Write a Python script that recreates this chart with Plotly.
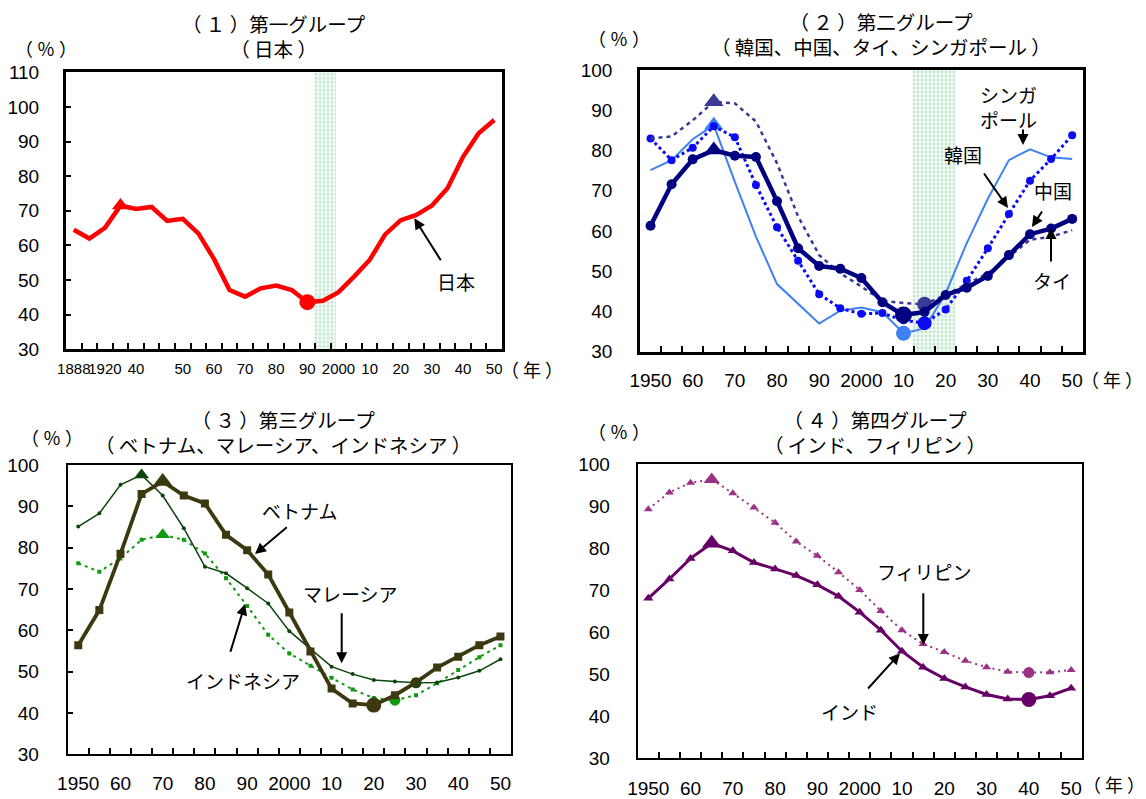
import plotly.graph_objects as go

W, H = 1146, 799

# ---------------- data ----------------
# Panel 1: Japan (category axis, 28 categories)
jp_labels = ["1888", "", "1920", "", "40", "", "", "50", "", "60", "", "70", "", "80", "",
             "90", "", "2000", "", "10", "", "20", "", "30", "", "40", "", "50"]
jp_values = [64.5, 62.0, 65.1, 71.5, 70.5, 71.1, 67.1, 67.7, 63.5, 56.1, 47.1, 45.2, 47.6, 48.4,
             47.1, 43.6, 44.0, 46.5, 51.0, 55.8, 63.2, 67.3, 68.8, 71.5, 76.5, 85.6, 92.4, 96.2]

# Panels 2-4: 1950..2050 every 5 years
yr_labels = ["1950", "", "60", "", "70", "", "80", "", "90", "", "2000", "", "10", "", "20", "",
             "30", "", "40", "", "50"]

china = [61.3, 71.6, 77.8, 80.1, 78.7, 78.4, 67.4, 55.7, 51.3, 50.6, 48.3, 42.3, 39.1, 39.9,
         44.1, 45.9, 48.8, 54.0, 59.2, 60.6, 63.0]
korea = [83.0, 77.6, 80.7, 86.0, 83.3, 71.4, 60.9, 52.6, 44.3, 40.8, 39.4, 39.6, 37.8, 37.1,
         40.5, 47.6, 55.7, 64.2, 72.5, 77.9, 83.8]
singapore = [75.1, 77.6, 82.8, 86.3, 72.2, 58.6, 46.8, 42.0, 37.0, 40.2, 41.0, 39.8, 34.6, 35.8,
             44.5, 57.0, 68.0, 77.6, 80.3, 78.3, 77.9]
thailand = [83.0, 83.5, 87.5, 92.1, 91.7, 87.2, 76.8, 63.6, 54.0, 49.5, 46.2, 42.6, 42.1, 41.8,
            44.1, 46.8, 49.5, 53.6, 57.8, 58.6, 60.2]

vietnam = [56.4, 64.9, 78.5, 93.0, 96.0, 92.6, 90.7, 83.1, 79.4, 73.5, 64.3, 54.9, 45.9, 42.3,
           41.9, 44.3, 47.4, 51.0, 53.6, 56.4, 58.5]
malaysia = [85.1, 88.3, 95.2, 97.6, 92.6, 84.7, 75.4, 73.8, 70.2, 66.5, 59.8, 55.4, 51.2, 49.4,
            48.0, 47.6, 47.3, 47.4, 48.6, 50.2, 53.0]
indonesia = [76.2, 74.2, 77.4, 81.9, 83.1, 81.9, 78.6, 72.6, 65.9, 58.9, 54.4, 51.4, 48.5, 45.7,
             43.6, 43.1, 44.3, 47.2, 50.4, 53.5, 56.4]

india = [68.1, 72.7, 77.6, 81.2, 79.4, 76.6, 75.1, 73.5, 71.3, 68.6, 64.8, 60.5, 55.5, 51.7,
         49.0, 47.0, 45.2, 44.1, 44.0, 44.9, 46.7]
philippines = [89.3, 93.3, 95.6, 96.4, 93.1, 89.7, 86.1, 81.6, 78.2, 74.3, 70.1, 65.1, 60.5, 57.2,
               55.3, 53.2, 51.7, 50.6, 50.4, 50.5, 51.0]

# shaded periods, in category-index units (layout constants)
JP_BAND = (15.45, 16.84)
G2_BAND = (12.44, 14.46)

# ---------------- styling helpers ----------------
NUM_FONT = dict(family="Liberation Sans, Arial, sans-serif", size=19, color="black")
JP_AXIS_FONT = dict(family="Liberation Sans, Arial, sans-serif", size=15, color="black")
JP_FONT = dict(family="Noto Sans CJK JP, sans-serif", size=19, color="black")
UNIT_FONT = dict(family="Noto Sans CJK JP, sans-serif", size=18, color="black")
TITLE_FONT = dict(family="Noto Sans CJK JP, sans-serif", size=19.5, color="black")
NB = "\u00a0"


def marks(vals, base_symbol, base_size, peak_size, low_size, peak=True, low=True):
    n = len(vals)
    sym = [base_symbol] * n
    siz = [base_size] * n
    j = min(range(n), key=lambda k: vals[k])
    if peak:
        i = max(range(j), key=lambda k: vals[k])
        sym[i] = "triangle-up"
        siz[i] = peak_size
    if low:
        sym[j] = "circle"
        siz[j] = low_size
    return sym, siz


def line_trace(vals, xa, ya, color, width, dash, base_symbol, base_size, peak_size, low_size,
               peak=True, low=True):
    sym, siz = marks(vals, base_symbol, base_size, peak_size, low_size, peak, low)
    return go.Scatter(x=list(range(len(vals))), y=vals, xaxis=xa, yaxis=ya, mode="lines+markers",
                      line=dict(color=color, width=width, dash=dash),
                      marker=dict(symbol=sym, size=siz, color=color, opacity=1, line=dict(width=0)),
                      hoverinfo="skip", showlegend=False)


def band_trace(band, ymin, ymax, xa, ya):
    return go.Bar(x=[(band[0] + band[1]) / 2], y=[ymax - ymin], base=[ymin], width=[band[1] - band[0]],
                  xaxis=xa, yaxis=ya,
                  marker=dict(color="white", line=dict(width=0),
                              pattern=dict(shape=".", fgcolor="#93cfaa", bgcolor="#f4fbf6",
                                           size=4, solidity=0.4)),
                  hoverinfo="skip", showlegend=False)


def px(x0, x1):
    return [x0 / W, x1 / W]


def py(y_top, y_bot):
    return [1 - y_bot / H, 1 - y_top / H]


def xaxis_cfg(domain, anchor, n, labels, font, standoff, lw):
    return dict(domain=domain, anchor=anchor, range=[-0.5, n - 0.5], tickmode="array",
                tickvals=list(range(n)), ticktext=labels, ticks="", tickangle=0, showline=True,
                mirror=True, linecolor="black", linewidth=lw, showgrid=False, zeroline=False,
                tickfont=font, ticklabelstandoff=standoff, fixedrange=True,
                minor=dict(tickmode="array", tickvals=[i + 0.5 for i in range(n - 1)],
                           ticks="inside", ticklen=6, tickwidth=2, tickcolor="black", showgrid=False))


def yaxis_cfg(domain, anchor, ymax, ticks, lw, standoff):
    return dict(domain=domain, anchor=anchor, range=[30, ymax], tickmode="linear", tick0=30, dtick=10,
                ticks=ticks, ticklen=5, tickwidth=2, tickcolor="black", showline=True, mirror=True,
                linecolor="black", linewidth=lw, showgrid=False, zeroline=False, tickfont=NUM_FONT,
                ticklabelstandoff=standoff, fixedrange=True)


# ---------------- traces ----------------
traces = []
# panel 1
traces.append(band_trace(JP_BAND, 30, 110, "x", "y"))
traces.append(line_trace(jp_values, "x", "y", "#FF0000", 4.5, "solid", "circle", 0, 15, 16))
# panel 2
traces.append(band_trace(G2_BAND, 30, 100, "x2", "y2"))
traces.append(line_trace(singapore, "x2", "y2", "#3F80F2", 2, "solid", "circle", 0, 17, 15))
traces.append(line_trace(korea, "x2", "y2", "#0A0AF5", 3, "dot", "circle", 8, 0, 14, peak=False))
traces.append(line_trace(thailand, "x2", "y2", "#3A3A96", 2.5, "4px,4px", "circle", 0, 17, 15))
traces.append(line_trace(china, "x2", "y2", "#000080", 4.5, "solid", "circle", 10, 17, 17))
# panel 3
traces.append(line_trace(indonesia, "x3", "y3", "#119911", 2, "3px,4px", "square", 4, 13, 11))
traces.append(line_trace(malaysia, "x3", "y3", "#0B450B", 1.5, "solid", "circle", 4, 13, 11))
traces.append(line_trace(vietnam, "x3", "y3", "#3C3810", 3.8, "solid", "square", 8, 17, 15))
# panel 4
traces.append(line_trace(philippines, "x4", "y4", "#9A3385", 2, "2px,4px", "triangle-up", 8, 14, 11))
traces.append(line_trace(india, "x4", "y4", "#660066", 3, "solid", "triangle-up", 9, 17, 15))

fig = go.Figure(data=traces)

# ---------------- layout ----------------
fig.update_layout(
    width=W, height=H, margin=dict(l=0, r=0, t=0, b=0, autoexpand=False),
    paper_bgcolor="white", plot_bgcolor="white", showlegend=False, barmode="overlay",
    xaxis=xaxis_cfg(px(66, 502), "y", len(jp_values), jp_labels, JP_AXIS_FONT, 4, 3),
    yaxis=yaxis_cfg(py(72.3, 349.3), "x", 110, "inside", 3, 20),
    xaxis2=xaxis_cfg(px(640, 1082.7), "y2", 21, yr_labels, NUM_FONT, 10, 2.5),
    yaxis2=yaxis_cfg(py(70, 351.7), "x2", 100, "", 2.5, 21),
    xaxis3=xaxis_cfg(px(67.7, 511), "y3", 21, yr_labels, NUM_FONT, 11, 2),
    yaxis3=yaxis_cfg(py(465, 754.3), "x3", 100, "inside", 2, 23),
    xaxis4=xaxis_cfg(px(637.7, 1081.7), "y4", 21, yr_labels, NUM_FONT, 12, 2),
    yaxis4=yaxis_cfg(py(464.3, 758.3), "x4", 100, "", 2, 22),
)

annotations = []


def text(x, y, s, font=JP_FONT):
    annotations.append(dict(x=x / W, y=1 - y / H, xref="paper", yref="paper", text=s, showarrow=False,
                            font=font, xanchor="center", yanchor="middle"))


def arrow(tx, ty, hx, hy):
    annotations.append(dict(x=hx / W, y=1 - hy / H, xref="paper", yref="paper", text="",
                            showarrow=True, ax=tx - hx, ay=ty - hy, axref="pixel", ayref="pixel",
                            arrowhead=2, arrowsize=1.1, arrowwidth=2, arrowcolor="black", standoff=0))


def paren(s):
    return "（" + NB + s + NB + "）"


PCT = paren("％")
YEAR = paren("年")

# titles (two lines each) and units
text(274, 36, paren("１") + "第一グループ<br>" + paren("日本"), TITLE_FONT)
text(46, 48, PCT, UNIT_FONT)
text(532, 369, YEAR, UNIT_FONT)

text(881, 34, paren("２") + "第二グループ<br>" + paren("韓国、中国、タイ、シンガポール"), TITLE_FONT)
text(619, 38.5, PCT, UNIT_FONT)
text(1112, 379, YEAR, UNIT_FONT)

text(283, 432, paren("３") + "第三グループ<br>" + paren("ベトナム、マレーシア、インドネシア"), TITLE_FONT)
text(52, 437, PCT, UNIT_FONT)

text(875, 432, paren("４") + "第四グループ<br>" + paren("インド、フィリピン"), TITLE_FONT)
text(619, 430.7, PCT, UNIT_FONT)
text(1114, 784, YEAR, UNIT_FONT)

# series labels with arrows
text(456, 281.7, "日本")
arrow(441.7, 261.7, 414.3, 218.3)

text(1008, 106.5, "シンガ<br>ポール")
arrow(1023, 128, 1023, 145)
text(962.5, 154, "韓国")
arrow(983, 172, 1008, 208)
text(1052.5, 190, "中国")
arrow(1043, 210, 1032, 227)
text(1051.5, 280, "タイ")
arrow(1051, 263, 1051, 228)

text(299, 510, "ベトナム")
arrow(288.3, 526, 255, 554)
text(350.5, 593, "マレーシア")
arrow(341.7, 611.7, 341.7, 663.3)
text(242.5, 680, "インドネシア")
arrow(230, 653.3, 245, 604)

text(924, 571.7, "フィリピン")
arrow(923.3, 591.7, 923.3, 645)
text(849, 711.7, "インド")
arrow(866.7, 690, 900, 653.3)

fig.update_layout(annotations=annotations)

fig.write_html("out.html", config={"displayModeBar": False},
               post_script="document.body.style.margin='0';")
